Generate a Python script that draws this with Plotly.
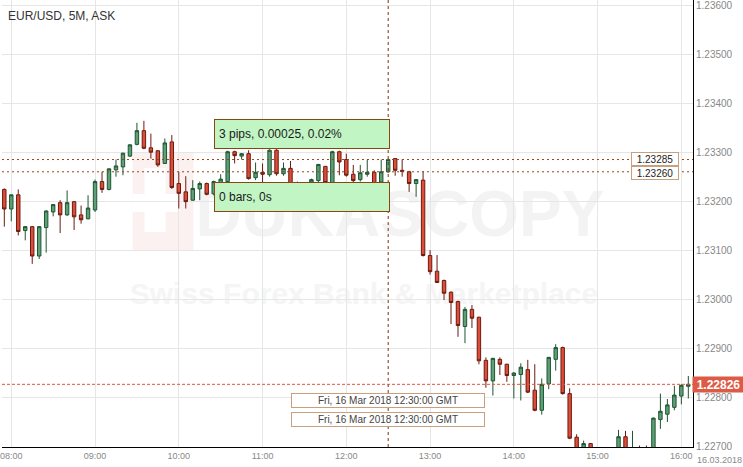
import plotly.graph_objects as go
import pandas as pd

title = "EUR/USD, 5M, ASK"
start = "2018-03-16 07:55"

open_ = [1.23224, 1.23184, 1.23213, 1.23140, 1.23148, 1.23088, 1.23146, 1.23178, 1.23197, 1.23172,
         1.23199, 1.23172, 1.23164, 1.23182, 1.23240, 1.23224, 1.23264, 1.23270, 1.23292, 1.23316,
         1.23344, 1.23309, 1.23303, 1.23277, 1.23321, 1.23236, 1.23219, 1.23202, 1.23225, 1.23236,
         1.23215, 1.23236, 1.23240, 1.23301, 1.23292, 1.23297, 1.23248, 1.23259, 1.23254, 1.23304,
         1.23256, 1.23267, 1.23228, 1.23236, 1.23239, 1.23242, 1.23271, 1.23238, 1.23301, 1.23285,
         1.23255, 1.23244, 1.23255, 1.23259, 1.23239, 1.23260, 1.23287, 1.23263, 1.23260, 1.23236,
         1.23243, 1.23089, 1.23057, 1.23038, 1.23014, 1.22995, 1.22944, 1.22979, 1.22963, 1.22875,
         1.22833, 1.22877, 1.22867, 1.22844, 1.22846, 1.22856, 1.22814, 1.22773, 1.22827, 1.22877,
         1.22901, 1.22807, 1.22718, 1.22690, 1.22705, 1.22692, 1.22680, 1.22672, 1.22685, 1.22719,
         1.22680, 1.22695, 1.22690, 1.22682, 1.22754, 1.22765, 1.22779, 1.22802, 1.22822]
high = [1.23226, 1.23213, 1.23224, 1.23149, 1.23149, 1.23149, 1.23181, 1.23194, 1.23202, 1.23222,
        1.23200, 1.23191, 1.23212, 1.23244, 1.23260, 1.23267, 1.23285, 1.23299, 1.23316, 1.23360,
        1.23364, 1.23338, 1.23304, 1.23328, 1.23335, 1.23260, 1.23251, 1.23243, 1.23240, 1.23238,
        1.23242, 1.23255, 1.23303, 1.23303, 1.23297, 1.23304, 1.23279, 1.23277, 1.23306, 1.23306,
        1.23279, 1.23282, 1.23240, 1.23239, 1.23246, 1.23276, 1.23272, 1.23303, 1.23303, 1.23297,
        1.23274, 1.23274, 1.23285, 1.23263, 1.23285, 1.23287, 1.23288, 1.23285, 1.23262, 1.23245,
        1.23261, 1.23100, 1.23090, 1.23040, 1.23016, 1.22997, 1.22984, 1.22988, 1.22964, 1.22881,
        1.22880, 1.22881, 1.22868, 1.22851, 1.22869, 1.22876, 1.22867, 1.22838, 1.22882, 1.22908,
        1.22903, 1.22818, 1.22724, 1.22711, 1.22705, 1.22696, 1.22690, 1.22694, 1.22733, 1.22731,
        1.22731, 1.22701, 1.22701, 1.22758, 1.22807, 1.22796, 1.22823, 1.22826, 1.22843]
low = [1.23148, 1.23159, 1.23130, 1.23120, 1.23072, 1.23082, 1.23095, 1.23169, 1.23135, 1.23170,
       1.23141, 1.23154, 1.23163, 1.23178, 1.23217, 1.23222, 1.23250, 1.23253, 1.23290, 1.23314,
       1.23306, 1.23287, 1.23270, 1.23276, 1.23225, 1.23185, 1.23185, 1.23201, 1.23202, 1.23212,
       1.23212, 1.23228, 1.23235, 1.23277, 1.23285, 1.23244, 1.23243, 1.23238, 1.23250, 1.23252,
       1.23252, 1.23230, 1.23222, 1.23225, 1.23234, 1.23238, 1.23235, 1.23235, 1.23253, 1.23250,
       1.23238, 1.23240, 1.23250, 1.23232, 1.23236, 1.23258, 1.23252, 1.23250, 1.23219, 1.23209,
       1.23087, 1.23050, 1.23033, 1.22998, 1.22949, 1.22923, 1.22910, 1.22941, 1.22867, 1.22819,
       1.22803, 1.22845, 1.22831, 1.22797, 1.22793, 1.22808, 1.22771, 1.22764, 1.22816, 1.22854,
       1.22805, 1.22714, 1.22680, 1.22685, 1.22685, 1.22665, 1.22660, 1.22665, 1.22680, 1.22685,
       1.22675, 1.22680, 1.22675, 1.22680, 1.22735, 1.22749, 1.22773, 1.22785, 1.22797]
close = [1.23184, 1.23213, 1.23138, 1.23148, 1.23088, 1.23148, 1.23180, 1.23193, 1.23172, 1.23197,
         1.23168, 1.23162, 1.23186, 1.23240, 1.23224, 1.23266, 1.23272, 1.23298, 1.23315, 1.23344,
         1.23308, 1.23300, 1.23274, 1.23319, 1.23228, 1.23216, 1.23199, 1.23226, 1.23236, 1.23214,
         1.23240, 1.23245, 1.23301, 1.23293, 1.23297, 1.23246, 1.23259, 1.23255, 1.23304, 1.23256,
         1.23267, 1.23235, 1.23236, 1.23230, 1.23244, 1.23275, 1.23238, 1.23301, 1.23280, 1.23253,
         1.23242, 1.23258, 1.23259, 1.23236, 1.23260, 1.23285, 1.23263, 1.23261, 1.23236, 1.23244,
         1.23089, 1.23056, 1.23034, 1.23012, 1.22993, 1.22946, 1.22979, 1.22961, 1.22874, 1.22833,
         1.22879, 1.22867, 1.22844, 1.22849, 1.22861, 1.22810, 1.22773, 1.22826, 1.22881, 1.22901,
         1.22807, 1.22716, 1.22690, 1.22705, 1.22690, 1.22680, 1.22672, 1.22685, 1.22719, 1.22690,
         1.22695, 1.22688, 1.22682, 1.22757, 1.22771, 1.22784, 1.22804, 1.22824, 1.22826]

times = pd.date_range(start, periods=len(open_), freq="5min")

last_price = 1.22826
cross_time = pd.Timestamp("2018-03-16 12:30")
measure_start = pd.Timestamp("2018-03-16 10:25")
cross_hi = 1.23285
cross_lo = 1.23260
measure_text = "3 pips, 0.00025, 0.02%"
bars_text = "0 bars, 0s"
time_label = "Fri, 16 Mar 2018 12:30:00 GMT"
date_label = "16.03.2018"
x_range = ["2018-03-16 07:53:21", "2018-03-16 16:08:21"]
y_range = [1.22698, 1.236108]

W, H = 743, 467
PW, PH = 693, 447  # plot area in px


def px(x):
    return x / PW


def py(y):
    return 1 - y / PH


FONT = "Liberation Sans, Arial, sans-serif"
BROWN = "#96451a"
TAN = "#c9a07e"

fig = go.Figure()
fig.add_trace(go.Candlestick(
    x=times, open=open_, high=high, low=low, close=close,
    increasing=dict(fillcolor="#5e9f78", line=dict(color="#1e5631", width=1)),
    decreasing=dict(fillcolor="#dd4d37", line=dict(color="#6b1b10", width=1)),
    whiskerwidth=0, showlegend=False, hoverinfo="skip",
))

shapes = []
# watermark (below grid)
shapes.append(dict(type="rect", xref="paper", yref="paper", x0=px(131), x1=px(192), y0=py(250), y1=py(152),
                   line=dict(width=0), fillcolor="#fcf1f1", layer="below"))
shapes.append(dict(type="rect", xref="paper", yref="paper", x0=px(143), x1=px(164), y0=py(232), y1=py(168),
                   line=dict(width=0), fillcolor="#ffffff", layer="below"))
shapes.append(dict(type="rect", xref="paper", yref="paper", x0=px(131), x1=px(178), y0=py(212), y1=py(194),
                   line=dict(width=0), fillcolor="#ffffff", layer="below"))
shapes.append(dict(type="rect", xref="paper", yref="paper", x0=px(198), x1=px(600), y0=py(255), y1=py(160),
                   line=dict(width=0), fillcolor="rgba(0,0,0,0)", layer="below",
                   label=dict(text="<b>DUKASCOPY</b>", textposition="middle center",
                              font=dict(family=FONT, size=64, color="#f3f3f3"))))
shapes.append(dict(type="rect", xref="paper", yref="paper", x0=px(130), x1=px(596), y0=py(312), y1=py(268),
                   line=dict(width=0), fillcolor="rgba(0,0,0,0)", layer="below",
                   label=dict(text="<b>Swiss Forex Bank & Marketplace</b>", textposition="middle center",
                              font=dict(family=FONT, size=30, color="#f4f5f4"))))
# crosshair lines
for level in (cross_hi, cross_lo):
    shapes.append(dict(type="line", xref="paper", yref="y", x0=0, x1=1, y0=level, y1=level,
                       line=dict(color=BROWN, width=1, dash="2px,3px"), layer="above"))
shapes.append(dict(type="line", xref="x", yref="paper", x0=cross_time, x1=cross_time, y0=0, y1=1,
                   line=dict(color="#7a3612", width=1, dash="3px,3px"), layer="above"))
# current price line
shapes.append(dict(type="line", xref="paper", yref="y", x0=0, x1=1, y0=last_price, y1=last_price,
                   line=dict(color="#e0533f", width=1, dash="3px,2px"), layer="above"))

annotations = []
annotations.append(dict(text=title, xref="paper", yref="paper", x=0, y=py(16), xanchor="left", yanchor="middle",
                        xshift=4, showarrow=False, font=dict(family=FONT, size=12, color="#333333")))
for txt, ytop in ((measure_text, 119), (bars_text, 182)):
    annotations.append(dict(text=txt, xref="x", yref="paper", x=measure_start, y=py(ytop), xanchor="left",
                            yanchor="top", showarrow=False, align="left", width=166, height=20, borderpad=4,
                            bgcolor="#c2f5c4", bordercolor="#8b4513", borderwidth=1,
                            font=dict(family=FONT, size=12, color="#1a1a1a")))
for level, shift in ((cross_hi, 1), (cross_lo, -1)):
    annotations.append(dict(text=f"{level:.5f}", xref="paper", yref="y", x=px(679), y=level, xanchor="right",
                            yanchor="middle", yshift=shift, showarrow=False, width=44, height=10, borderpad=1,
                            bgcolor="#ffffff", bordercolor=TAN, borderwidth=1,
                            font=dict(family=FONT, size=10, color="#222222")))
for yc in (400.8, 419.2):
    annotations.append(dict(text=time_label, xref="x", yref="paper", x=cross_time, y=py(yc), xanchor="center",
                            yanchor="middle", showarrow=False, width=190, height=11, borderpad=1,
                            bgcolor="#ffffff", bordercolor=TAN, borderwidth=1,
                            font=dict(family=FONT, size=10, color="#444444")))
annotations.append(dict(text=f"<b>{last_price:.5f}</b>", xref="paper", yref="y", x=1, y=last_price,
                        xanchor="left", yanchor="middle", xshift=-1, showarrow=False, width=49, height=13,
                        borderpad=1, bgcolor="#dc5a46", font=dict(family=FONT, size=12, color="#ffffff")))
annotations.append(dict(text=date_label, xref="paper", yref="paper", x=1, y=0, xanchor="left", yanchor="middle",
                        xshift=2, yshift=-13, showarrow=False, font=dict(family=FONT, size=9, color="#888888")))

fig.update_layout(
    width=W, height=H,
    margin=dict(l=0, r=W - PW, t=0, b=H - PH),
    paper_bgcolor="#ffffff", plot_bgcolor="#ffffff",
    font=dict(family=FONT),
    shapes=shapes, annotations=annotations,
    showlegend=False, hovermode=False,
    xaxis=dict(type="date", range=x_range, rangeslider=dict(visible=False),
               tick0="2018-03-16 08:00", dtick=3600000, tickformat="%H:%M",
               showgrid=True, gridcolor="#e6e6e6", gridwidth=1, zeroline=False,
               showline=True, linecolor="#000000", linewidth=1, ticks="",
               ticklabeloverflow="allow",
               tickfont=dict(family=FONT, size=9, color="#888888")),
    yaxis=dict(side="right", range=y_range, dtick=0.001, tick0=1.227, tickformat=".5f",
               showgrid=True, gridcolor="#e6e6e6", gridwidth=1, zeroline=False,
               showline=True, linecolor="#000000", linewidth=1, ticks="",
               ticklabeloverflow="allow",
               tickfont=dict(family=FONT, size=10, color="#888888")),
)

fig.write_html("out.html", config={"displayModeBar": False},
               post_script="document.body.style.margin='0';document.body.style.padding='0';")
